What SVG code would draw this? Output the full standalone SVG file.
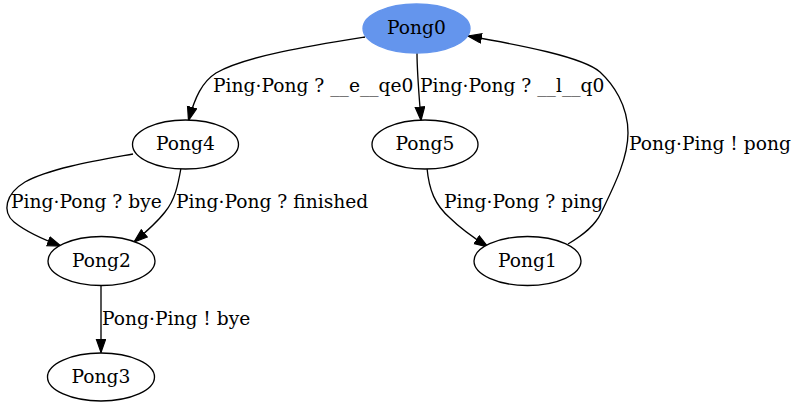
<svg xmlns="http://www.w3.org/2000/svg" width="797" height="407" viewBox="0 0 797 407">
<defs>
<style>
.node ellipse{fill:#ffffff;stroke:#000000;stroke-width:1.33}
#Pong0 ellipse{fill:#6495ed;stroke:#6495ed}
text{font-family:"DejaVu Serif","Liberation Serif",serif;font-size:18.67px;fill:#000000}
.node text{text-anchor:middle}
.edges path{fill:none;stroke:#000000;stroke-width:1.33;marker-end:url(#arrow)}
</style>
<marker id="arrow" markerUnits="userSpaceOnUse" markerWidth="16" markerHeight="13" refX="14" refY="5.3" orient="auto">
<path d="M0.6,0.6 L14,5.3 L0.6,10 Z" fill="#000000" stroke="#000000" stroke-width="1.2"/>
</marker>
</defs>
<rect width="797" height="407" fill="#ffffff"/>
<g class="edges">
<path d="M365,37 C315,45 245,56 216,73 C202,82 195,97 188.5,120.5"/>
<path d="M417,53 C417,72 419,95 421,120.5"/>
<path d="M427,168 C429,190 435,205 450,218 C460,228 474,238 488,247"/>
<path d="M568,244 C583,235 595,226 601,213 C612,190 628,160 628,133 C628,105 613,84 600,72 C583,57 520,45 468,36"/>
<path d="M133,154 C100,160 50,168 25,182 C5,194 2,212 14,222 C24,230 42,239 61,246"/>
<path d="M181,168 C178,185 175,200 165,212 C158,221 146,232 134,242"/>
<path d="M101,285 L101,352.5"/>
</g>
<g class="edge-labels">
<text x="213" y="92">Ping·Pong ? __e__qe0</text>
<text x="420" y="92">Ping·Pong ? __l__q0</text>
<text x="629" y="150">Pong·Ping ! pong</text>
<text x="444" y="208">Ping·Pong ? ping</text>
<text x="11" y="207.5">Ping·Pong ? bye</text>
<text x="176" y="207.5">Ping·Pong ? finished</text>
<text x="102" y="324.5">Pong·Ping ! bye</text>
</g>
<g id="Pong0" class="node"><ellipse cx="416.5" cy="28.5" rx="53.5" ry="24.5"/><text x="416.5" y="34">Pong0</text></g>
<g id="Pong4" class="node"><ellipse cx="185.5" cy="144.5" rx="53" ry="24.5"/><text x="185.5" y="150">Pong4</text></g>
<g id="Pong5" class="node"><ellipse cx="425" cy="144.5" rx="53" ry="24.5"/><text x="425" y="150">Pong5</text></g>
<g id="Pong2" class="node"><ellipse cx="101.5" cy="261" rx="53.5" ry="24.5"/><text x="101.5" y="266.5">Pong2</text></g>
<g id="Pong1" class="node"><ellipse cx="527.5" cy="261" rx="53.5" ry="24.5"/><text x="527.5" y="266.5">Pong1</text></g>
<g id="Pong3" class="node"><ellipse cx="101" cy="377" rx="53.5" ry="24"/><text x="101" y="382.5">Pong3</text></g>
</svg>
